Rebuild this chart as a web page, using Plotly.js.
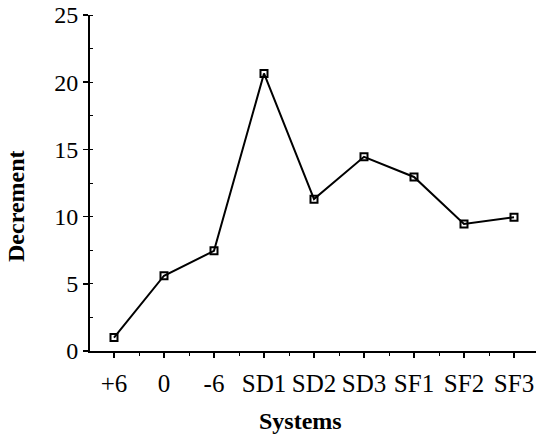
<!DOCTYPE html>
<html>
<head>
<meta charset="utf-8">
<script src="https://cdn.plot.ly/plotly-3.0.1.min.js"></script>
<style>html,body{margin:0;padding:0;background:#fff;}#chart{width:536px;height:434px;}</style>
</head>
<body>
<div id="chart"></div>
<script>
var categories = ["+6", "0", "-6", "SD1", "SD2", "SD3", "SF1", "SF2", "SF3"];
var decrement = [1.0, 5.6, 7.45, 20.65, 11.3, 14.45, 12.95, 9.45, 9.95];
var yTicks = [0, 5, 10, 15, 20, 25];
var xTitle = "Systems";
var yTitle = "Decrement";

var xIdx = categories.map(function (_, i) { return i; });

var trace = {
  x: xIdx,
  y: decrement,
  type: "scatter",
  mode: "lines+markers",
  line: {color: "#000", width: 2},
  marker: {symbol: "square-open", size: 7, color: "#000", line: {width: 2, color: "#000"}},
  cliponaxis: false,
  hoverinfo: "skip"
};

var serif = "Liberation Serif, Times New Roman, serif";

var layout = {
  width: 536,
  height: 434,
  margin: {l: 90, r: 0, t: 15, b: 83},
  paper_bgcolor: "#fff",
  plot_bgcolor: "#fff",
  showlegend: false,
  font: {family: serif, color: "#000"},
  xaxis: {
    range: [-0.48, 8.44],
    tickvals: xIdx,
    ticktext: categories,
    showgrid: false,
    zeroline: false,
    showline: true,
    linecolor: "#000",
    linewidth: 2,
    ticks: "outside",
    ticklen: 5,
    tickwidth: 1.5,
    tickcolor: "#000",
    ticklabelstandoff: 4,
    tickfont: {family: serif, size: 25, color: "#000"},
    minor: {dtick: 0.5, tick0: 0, ticks: "outside", ticklen: 3, tickwidth: 1, tickcolor: "#000"}
  },
  yaxis: {
    range: [0, 25],
    tickvals: yTicks,
    ticktext: yTicks.map(String),
    showgrid: false,
    zeroline: false,
    showline: true,
    linecolor: "#000",
    linewidth: 2,
    ticks: "outside",
    ticklen: 5,
    tickwidth: 1.5,
    tickcolor: "#000",
    tickfont: {family: serif, size: 24, color: "#000"},
    minor: {dtick: 2.5, tick0: 0, ticks: "inside", ticklen: 3, tickwidth: 1, tickcolor: "#000"}
  },
  annotations: [
    {text: "<b>" + xTitle + "</b>", xref: "paper", yref: "paper", x: 0.4709, y: -0.2083,
     xanchor: "center", yanchor: "middle", showarrow: false,
     font: {family: serif, size: 24, color: "#000"}},
    {text: "<b>" + yTitle + "</b>", xref: "paper", yref: "paper", x: -0.166, y: 0.4315,
     xanchor: "center", yanchor: "middle", textangle: -90, showarrow: false,
     font: {family: serif, size: 24, color: "#000"}}
  ]
};

Plotly.newPlot("chart", [trace], layout, {displayModeBar: false, staticPlot: true});
</script>
</body>
</html>
